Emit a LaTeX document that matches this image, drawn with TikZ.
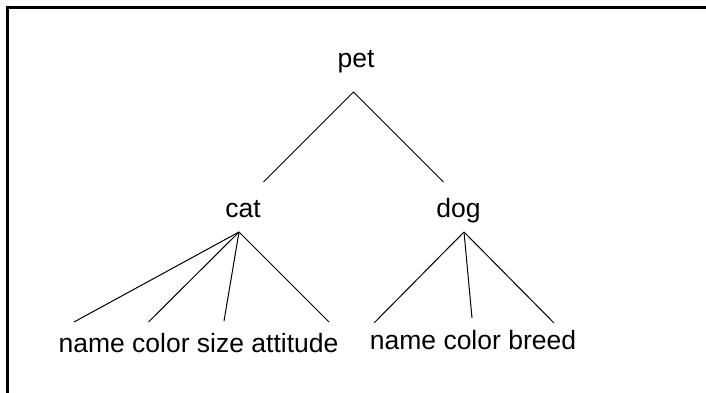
\documentclass[tikz,border=0pt]{standalone}
\usepackage{fontspec}
\setmainfont{Liberation Sans}
\begin{document}
\begin{tikzpicture}[x=1pt, y=-1pt,
  label/.style={anchor=base, inner sep=0pt, font=\fontsize{26.5}{30}\selectfont},
  edge/.style={line width=1pt},
  frame/.style={line width=3pt}]
  \useasboundingbox (0,0) rectangle (706,393);

  % open frame: left and top sides
  \draw[frame] (7.5,400) -- (7.5,7.5) -- (720,7.5);

  % labels
  \node[label] (pet) at (356,68) {pet};
  \node[label] (cat) at (243,217) {cat};
  \node[label] (dog) at (458.5,217.5) {dog};
  \node[label] (catleaves) at (198.5,352) {name color size attitude};
  \node[label] (dogleaves) at (473,349) {name color breed};

  % branch points and branch ends
  \coordinate (petroot) at (353.5,92);
  \coordinate (tocat) at (263.5,182);
  \coordinate (todog) at (443.5,182);
  \coordinate (catroot) at (239,232);
  \coordinate (catname) at (74,322);
  \coordinate (catcolor) at (148.5,322);
  \coordinate (catsize) at (224,321);
  \coordinate (catattitude) at (329,322);
  \coordinate (dogroot) at (464,232);
  \coordinate (dogname) at (374,323);
  \coordinate (dogcolor) at (472,318);
  \coordinate (dogbreed) at (554,323);

  % branches
  \draw[edge] (tocat) -- (petroot) -- (todog);
  \draw[edge] (catroot) -- (catname);
  \draw[edge] (catroot) -- (catcolor);
  \draw[edge] (catroot) -- (catsize);
  \draw[edge] (catroot) -- (catattitude);
  \draw[edge] (dogroot) -- (dogname);
  \draw[edge] (dogroot) -- (dogcolor);
  \draw[edge] (dogroot) -- (dogbreed);
\end{tikzpicture}
\end{document}
